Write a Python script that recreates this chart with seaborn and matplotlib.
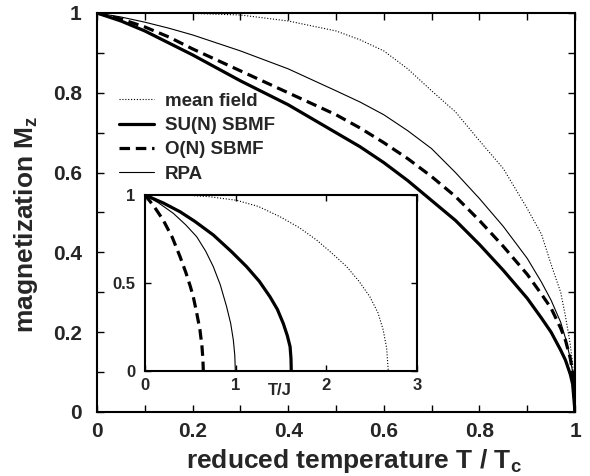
import matplotlib
matplotlib.use("Agg")
import matplotlib.pyplot as plt
import matplotlib.transforms as mtransforms
import seaborn as sns
import numpy as np

# ---- main panel data: reduced temperature T/Tc vs magnetization ----
t_red = [0, 0.05, 0.1, 0.15, 0.2, 0.3, 0.4, 0.5, 0.55, 0.6, 0.65, 0.7, 0.75, 0.8,
         0.85, 0.9, 0.93, 0.95, 0.97, 0.98, 0.99, 0.995, 1.0]
m_meanfield = [1, 1, 1, 1, 0.999, 0.995, 0.98, 0.955, 0.933, 0.905, 0.86, 0.805, 0.752, 0.68,
               0.61, 0.51, 0.445, 0.37, 0.30, 0.24, 0.17, 0.12, 0]
m_sun = [1, 0.98, 0.955, 0.925, 0.895, 0.83, 0.77, 0.70, 0.665, 0.625, 0.58, 0.53, 0.48, 0.42,
         0.355, 0.285, 0.235, 0.20, 0.155, 0.13, 0.095, 0.07, 0]
m_on = [1, 0.985, 0.965, 0.94, 0.91, 0.855, 0.80, 0.745, 0.712, 0.675, 0.635, 0.59, 0.54, 0.48,
        0.415, 0.345, 0.295, 0.26, 0.21, 0.18, 0.135, 0.10, 0]
m_rpa = [1, 0.99, 0.977, 0.962, 0.945, 0.905, 0.86, 0.805, 0.777, 0.745, 0.705, 0.66, 0.60, 0.535,
         0.465, 0.385, 0.325, 0.28, 0.225, 0.185, 0.135, 0.10, 0]

# ---- inset data: T/J vs magnetization ----
tj_on = [0, 0.1, 0.2, 0.3, 0.386, 0.45, 0.5, 0.533, 0.57, 0.606, 0.628, 0.638, 0.643]
mi_on = [1, 0.935, 0.858, 0.76, 0.65, 0.56, 0.48, 0.42, 0.33, 0.233, 0.14, 0.07, 0]
tj_rpa = [0, 0.15, 0.312, 0.45, 0.57, 0.67, 0.753, 0.83, 0.90, 0.945, 0.974, 0.99, 0.996]
mi_rpa = [1, 0.955, 0.896, 0.83, 0.763, 0.68, 0.593, 0.49, 0.365, 0.27, 0.176, 0.09, 0]
tj_sun = [0, 0.2, 0.386, 0.55, 0.753, 0.95, 1.12, 1.26, 1.378, 1.46, 1.525, 1.57, 1.60, 1.61, 1.613]
mi_sun = [1, 0.955, 0.905, 0.85, 0.773, 0.68, 0.593, 0.51, 0.422, 0.35, 0.27, 0.20, 0.138, 0.07, 0]
tj_mf = [0, 0.5, 0.716, 1.01, 1.25, 1.488, 1.7, 1.893, 2.06, 2.224, 2.36, 2.48, 2.57, 2.627, 2.665, 2.683]
mi_mf = [1, 0.998, 0.99, 0.97, 0.935, 0.877, 0.815, 0.744, 0.67, 0.593, 0.51, 0.422, 0.33, 0.233, 0.13, 0]

labels = ["mean field", "SU(N) SBMF", "O(N) SBMF", "RPA"]

sns.set_theme(style="ticks")
plt.rcParams["font.family"] = ["Liberation Sans", "DejaVu Sans"]
plt.rcParams["mathtext.fontset"] = "custom"
plt.rcParams["mathtext.rm"] = "Liberation Sans:bold"
plt.rcParams["mathtext.it"] = "Liberation Sans:bold"
plt.rcParams["mathtext.bf"] = "Liberation Sans:bold"

fig = plt.figure(figsize=(5.9, 4.76), dpi=100)
ax = fig.add_axes([0.1644, 0.1345, 0.8102, 0.8382])

styles = [
    dict(lw=0.8, linestyle=(0, (1, 1.6))),
    dict(lw=2.3, linestyle="-"),
    dict(lw=2.3, linestyle=(0, (3.3, 1.8))),
    dict(lw=0.8, linestyle="-"),
]
main_series = [m_meanfield, m_sun, m_on, m_rpa]
for ys, st, lab in zip(main_series, styles, labels):
    sns.lineplot(x=t_red, y=ys, ax=ax, color="black", label=lab, **st)

ax.set_xlim(0, 1)
ax.set_ylim(0, 1)
ax.set_xticks(np.arange(0, 1.01, 0.2))
ax.set_yticks(np.arange(0, 1.01, 0.2))
ax.set_xticklabels(["0", "0.2", "0.4", "0.6", "0.8", "1"])
ax.set_yticklabels(["0", "0.2", "0.4", "0.6", "0.8", "1"])
ax.set_xticks(np.arange(0.1, 1.0, 0.2), minor=True)
ax.set_yticks(np.arange(0.1, 1.0, 0.2), minor=True)
ax.tick_params(which="both", direction="in", top=True, right=True, length=5, width=1.0,
               color="black")
ax.tick_params(axis="x", which="major", labelsize=15, pad=7)
ax.tick_params(axis="y", which="major", labelsize=15, pad=11)
for lbl in ax.get_xticklabels() + ax.get_yticklabels():
    lbl.set_fontweight("bold")
for s in ax.spines.values():
    s.set_linewidth(1.5)
    s.set_color("black")

ax.set_xlabel("reduced temperature T / T$_\\mathrm{c}$", fontsize=19, fontweight="bold")
ax.set_ylabel("magnetization M$_\\mathrm{z}$", fontsize=19, fontweight="bold")
ax.xaxis.set_label_coords(0.538, -0.088)
ax.yaxis.set_label_coords(-0.119, 0.47)

leg = ax.legend(loc="upper left", bbox_to_anchor=(0.046, 0.80), frameon=False,
                fontsize=13.5, handlelength=1.85, handletextpad=0.6,
                labelspacing=0.38, borderpad=0, borderaxespad=0)
for txt in leg.get_texts():
    txt.set_fontweight("bold")

# ---- inset ----
axin = fig.add_axes([0.2458, 0.2206, 0.4610, 0.3697])
axin.set_facecolor("white")
inset_series = [(tj_mf, mi_mf), (tj_sun, mi_sun), (tj_on, mi_on), (tj_rpa, mi_rpa)]
for (xs, ys), st in zip(inset_series, styles):
    sns.lineplot(x=xs, y=ys, ax=axin, color="black", legend=False, **st)
axin.set_xlim(0, 3)
axin.set_ylim(0, 1)
axin.set_xticks([0, 1, 2, 3])
axin.set_xticklabels(["0", "1", "2", "3"])
axin.set_yticks([0, 0.5, 1])
axin.set_yticklabels(["0", "0.5", "1"])
axin.tick_params(which="both", direction="in", top=True, right=True, length=4, width=1.0,
                 labelsize=12, color="black")
axin.tick_params(axis="x", pad=5)
axin.tick_params(axis="y", pad=7)
for lbl in axin.get_xticklabels() + axin.get_yticklabels():
    lbl.set_fontweight("bold")
for s in axin.spines.values():
    s.set_linewidth(1.5)
    s.set_color("black")
trans = mtransforms.blended_transform_factory(axin.transData, axin.transAxes)
axin.text(1.49, -0.11, "T/J", transform=trans, ha="center", va="center",
          fontsize=12, fontweight="bold")

fig.savefig("out.png", dpi=100)
